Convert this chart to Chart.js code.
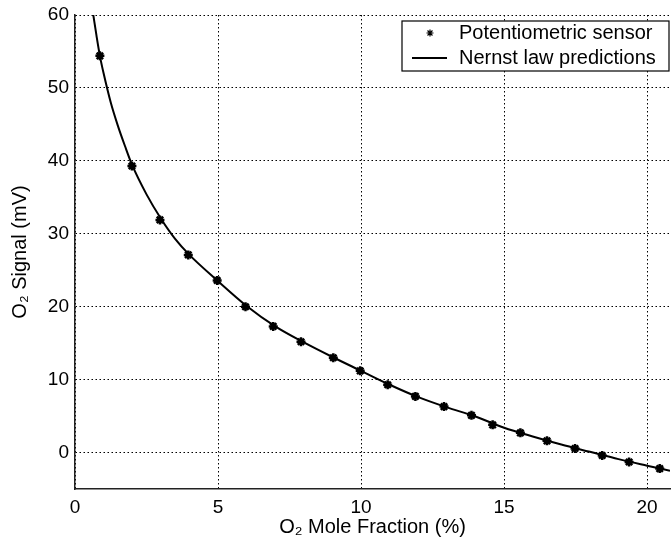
<!DOCTYPE html>
<html>
<head>
<meta charset="utf-8">
<script src="https://cdn.jsdelivr.net/npm/chart.js@4/dist/chart.umd.min.js"></script>
<style>
  body { margin: 0; background: #fff; }
  /* the original figure is cropped at its right edge, so the canvas is a little wider than the view */
  #wrap { width: 672px; height: 542px; overflow: hidden; }
</style>
</head>
<body>
<div id="wrap"><canvas id="chart" width="677" height="542"></canvas></div>
<script>
// Axis ticks
const xTicks = [0, 5, 10, 15, 20];
const yTicks = [0, 10, 20, 30, 40, 50, 60];

// Measured sensor points
const sensorX = [0.87, 1.99, 2.97, 3.96, 4.97, 5.96, 6.93, 7.9, 9.03, 9.97, 10.93,
  11.9, 12.9, 13.86, 14.6, 15.57, 16.5, 17.48, 18.43, 19.37, 20.44];
const sensorY = [54.4, 39.3, 31.9, 27.1, 23.6, 20.0, 17.3, 15.2, 13.0, 11.2, 9.3,
  7.7, 6.3, 5.1, 3.8, 2.7, 1.6, 0.55, -0.4, -1.3, -2.2];

// Nernst law curve
const nernstX = [0.64, 0.75, 0.87, 1, 1.25, 1.5, 1.75, 2, 2.5, 3, 3.5, 4, 5, 6, 7, 8,
  9, 10, 11, 12, 13, 14, 15, 16, 17, 18, 19, 20, 20.8];
const nernstY = [60, 57.2, 54.4, 52.0, 48.0, 44.8, 42.0, 39.4, 35.4, 32.1, 29.3, 27.1,
  23.5, 20.1, 17.3, 15.1, 13.1, 11.2, 9.3, 7.6, 6.2, 4.95, 3.4, 2.2, 1.1, 0.1, -0.9, -1.8, -2.5];

const FONT = "'Liberation Sans', Arial, Helvetica, sans-serif";

// Boxed legend in the top right corner, like the original figure
const boxLegend = {
  id: "boxLegend",
  afterDraw(chart) {
    const { ctx, chartArea } = chart;
    const w = 267, h = 50;
    const right = Math.min(chartArea.right, 672);
    const x0 = right - w - 1, y0 = chartArea.top + 6;
    ctx.save();
    ctx.fillStyle = "#fff";
    ctx.fillRect(x0, y0, w, h);
    ctx.strokeStyle = "#000";
    ctx.lineWidth = 1.2;
    ctx.strokeRect(x0, y0, w, h);

    const ds = chart.data.datasets;
    const row1 = y0 + 12, row2 = y0 + 37;
    // marker entry
    ctx.strokeStyle = "#000";
    ctx.fillStyle = "#000";
    Chart.helpers.drawPoint(ctx, { pointStyle: "star", radius: 3.5, borderWidth: 2.5, rotation: 0 }, x0 + 28, row1);
    // line entry
    ctx.lineWidth = 2;
    ctx.beginPath();
    ctx.moveTo(x0 + 10, row2);
    ctx.lineTo(x0 + 45, row2);
    ctx.stroke();

    ctx.font = "20px " + FONT;
    ctx.textBaseline = "middle";
    ctx.textAlign = "left";
    ctx.fillText(ds[0].label, x0 + 57, row1);
    ctx.fillText(ds[1].label, x0 + 57, row2);
    ctx.restore();
  }
};

new Chart(document.getElementById("chart"), {
  type: "scatter",
  data: {
    datasets: [
      {
        label: "Potentiometric sensor",
        data: sensorX.map((x, i) => ({ x: x, y: sensorY[i] })),
        pointStyle: "star",
        pointRadius: 4.5,
        pointBorderWidth: 2.5,
        borderColor: "#000",
        backgroundColor: "#000",
        showLine: false,
      },
      {
        label: "Nernst law predictions",
        data: nernstX.map((x, i) => ({ x: x, y: nernstY[i] })),
        showLine: true,
        pointRadius: 0,
        borderColor: "#000",
        borderWidth: 2,
        cubicInterpolationMode: "monotone",
      },
    ],
  },
  options: {
    responsive: false,
    animation: false,
    layout: { padding: { top: 15, right: 0, left: 0, bottom: 0 } },
    plugins: {
      legend: { display: false },
      tooltip: { enabled: false },
    },
    scales: {
      x: {
        type: "linear",
        min: 0,
        max: 20.8,
        afterBuildTicks: (s) => { s.ticks = xTicks.map((v) => ({ value: v })); },
        afterFit: (s) => { s.height = 53; },
        ticks: { color: "#000", padding: 7, font: { family: FONT, size: 19 } },
        grid: { color: "#000", lineWidth: 1, drawTicks: false },
        border: { display: true, color: "#222", width: 1.5, dash: [1.5, 2.5] },
        title: {
          display: true,
          text: "O\u2082 Mole Fraction (%)",
          color: "#000",
          font: { family: FONT, size: 20 },
          padding: { top: 0, bottom: 3 },
        },
      },
      y: {
        type: "linear",
        min: -5,
        max: 60,
        afterBuildTicks: (s) => { s.ticks = yTicks.map((v) => ({ value: v })); },
        afterFit: (s) => { s.width = 75; s.paddingTop = 0; s.paddingBottom = 0; },
        ticks: { color: "#000", padding: 6, font: { family: FONT, size: 19 } },
        grid: { color: "#000", lineWidth: 1, drawTicks: false },
        border: { display: true, color: "#222", width: 1.5, dash: [1.5, 2.5] },
        title: {
          display: true,
          text: "O\u2082 Signal (mV)",
          color: "#000",
          font: { family: FONT, size: 20 },
          padding: { top: 8, bottom: 0 },
        },
      },
    },
  },
  plugins: [boxLegend],
});
</script>
</body>
</html>
